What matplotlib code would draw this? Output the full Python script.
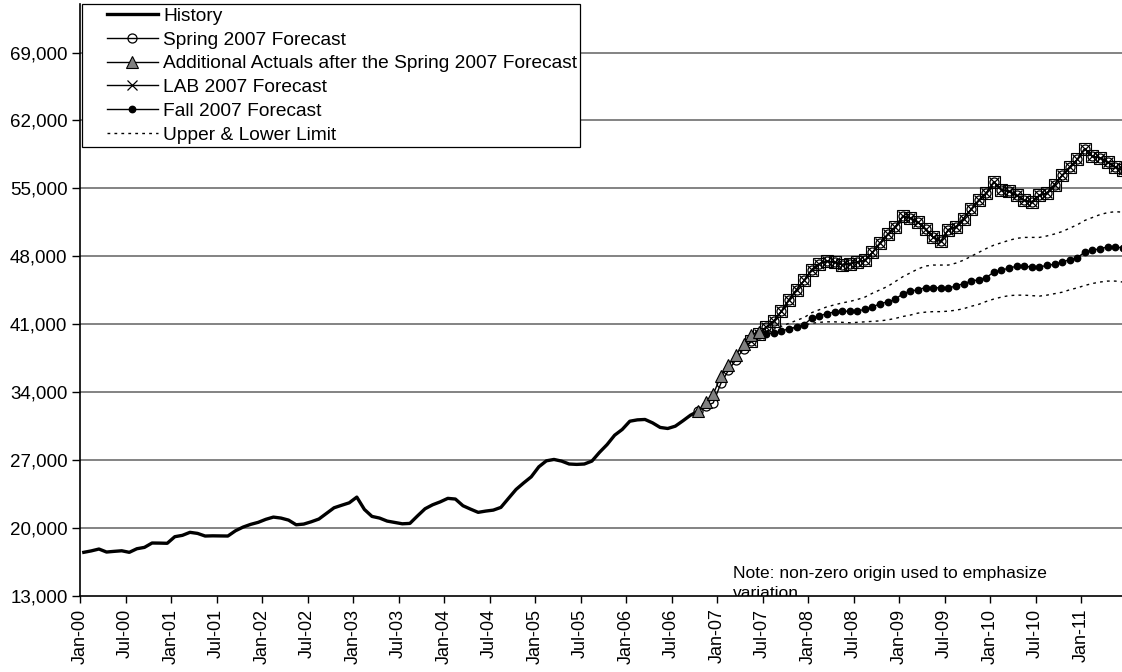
import numpy as np
import matplotlib
matplotlib.use("Agg")
import matplotlib.pyplot as plt
from matplotlib.lines import Line2D
from matplotlib.legend_handler import HandlerLine2D
from matplotlib.ticker import FuncFormatter

plt.rcParams["font.family"] = ["Liberation Sans", "DejaVu Sans"]

# month index 0 = Jan-00, one point per month
tick_labels = ["Jan-00", "Jul-00", "Jan-01", "Jul-01", "Jan-02", "Jul-02", "Jan-03",
               "Jul-03", "Jan-04", "Jul-04", "Jan-05", "Jul-05", "Jan-06", "Jul-06",
               "Jan-07", "Jul-07", "Jan-08", "Jul-08", "Jan-09", "Jul-09", "Jan-10",
               "Jul-10", "Jan-11"]
y_ticks = [13000, 20000, 27000, 34000, 41000, 48000, 55000, 62000, 69000]

history_start = 0
history = [17500, 17650, 17840, 17530, 17600, 17660, 17500, 17870, 18010, 18460,
           18450, 18430, 19110, 19250, 19560, 19450, 19180, 19200, 19190, 19180,
           19720, 20100, 20380, 20590, 20900, 21130, 21030, 20820, 20340, 20410,
           20650, 20930, 21510, 22090, 22350, 22600, 23190, 21920, 21200, 21030,
           20720, 20580, 20440, 20480, 21250, 21990, 22400, 22700, 23060, 22990,
           22300, 21950, 21620, 21750, 21850, 22130, 23060, 23980, 24650, 25280,
           26310, 26930, 27070, 26900, 26600, 26560, 26600, 26900, 27800, 28600,
           29570, 30160, 31010, 31150, 31190, 30840, 30370, 30260, 30500, 31050,
           31630, 32040]

actuals_start = 81
actuals = [32040, 33000, 33790, 35650, 36780, 37810, 39010, 39940, 40210]

spring_start = 81
spring = [32040, 32560, 32900, 34900, 36250, 37350, 38500, 39300, 40000, 40720,
          41340, 42340, 43540, 44570, 45530, 46630, 47250, 47490, 47400, 47150,
          47250, 47420, 47590, 48400, 49380, 50250, 51020, 52120, 51940, 51500,
          50780, 49960, 49530, 50750, 51020, 51880, 52840, 53760, 54520, 55650,
          54870, 54690, 54280, 53760, 53590, 54280, 54520, 55380, 56340, 57190,
          57980, 59090, 58290, 58160, 57710, 57190, 56850]

lab_start = 88
lab = [39300, 40000, 40720, 41340, 42340, 43540, 44570, 45530, 46630, 47250,
       47490, 47400, 47150, 47250, 47420, 47590, 48400, 49380, 50250, 51020,
       52120, 51940, 51500, 50780, 49960, 49530, 50750, 51020, 51880, 52840,
       53760, 54520, 55650, 54870, 54690, 54280, 53760, 53590, 54280, 54520,
       55380, 56340, 57190, 57980, 59090, 58290, 58160, 57710, 57190, 56850]

fall_start = 89
fall = [40100, 40040, 40110, 40280, 40560, 40720, 40970, 41650, 41860, 42100,
        42270, 42340, 42340, 42370, 42540, 42780, 43130, 43300, 43560, 44160,
        44400, 44570, 44780, 44780, 44740, 44740, 44940, 45190, 45430, 45600,
        45810, 46380, 46560, 46800, 46970, 46970, 46900, 46900, 47070, 47180,
        47410, 47660, 47860, 48440, 48620, 48790, 48960, 48930, 48900]

limits_start = 90
upper = [40300, 40500, 40800, 41100, 41400, 41700, 42200, 42500, 42800, 43000,
         43200, 43350, 43550, 43800, 44200, 44550, 44900, 45400, 45900, 46300,
         46700, 47000, 47100, 47100, 47100, 47300, 47600, 48000, 48400, 48800,
         49150, 49400, 49650, 49850, 49950, 49950, 49950, 50100, 50300, 50550,
         50900, 51250, 51700, 52000, 52300, 52500, 52600, 52550]
lower = [39900, 40000, 40200, 40500, 40700, 40900, 41100, 41200, 41250, 41250,
         41200, 41150, 41200, 41250, 41300, 41350, 41450, 41600, 41800, 41950,
         42150, 42250, 42300, 42300, 42350, 42450, 42600, 42850, 43050, 43350,
         43600, 43800, 43950, 44000, 44000, 43950, 43900, 44000, 44150, 44300,
         44550, 44750, 45000, 45200, 45350, 45450, 45450, 45350]


def months(start, values):
    return np.arange(start, start + len(values)) + 0.5


fig = plt.figure(figsize=(11.22, 6.72), dpi=100)
ax = fig.add_axes([80 / 1122, 76 / 672, 1042 / 1122, 592 / 672])

for y in y_ticks[1:]:
    ax.axhline(y, color="#6e6e6e", lw=1.2, zorder=0)

h_hist, = ax.plot(months(history_start, history), history, color="black", lw=2.4,
                  label="History", zorder=2)

h_spring, = ax.plot(months(spring_start, spring), spring, color="black", lw=1,
                    marker="o", ms=6.5, mfc="none", mec="black", mew=0.9,
                    label="Spring 2007 Forecast", zorder=3)

h_act, = ax.plot(months(actuals_start, actuals), actuals, color="black", lw=1,
                 marker="^", ms=8, mfc="#808080", mec="black", mew=0.8,
                 label="Additional Actuals after the Spring 2007 Forecast", zorder=5)

# square outline that shows round the LAB markers
ax.plot(months(lab_start, lab), lab, color="black", lw=1, marker="s", ms=8.3,
        mfc="none", mec="black", mew=0.8, zorder=4)
h_lab, = ax.plot(months(lab_start, lab), lab, color="black", lw=1,
                 marker="x", ms=6.5, mec="black", mew=0.9,
                 label="LAB 2007 Forecast", zorder=4)

h_fall, = ax.plot(months(fall_start, fall), fall, color="black", lw=1,
                  marker="o", ms=4.6, mfc="black", mec="black",
                  label="Fall 2007 Forecast", zorder=4)

h_lim, = ax.plot(months(limits_start, upper), upper, color="black", lw=1,
                 dashes=(2, 3), label="Upper & Lower Limit", zorder=3)
ax.plot(months(limits_start, lower), lower, color="black", lw=1, dashes=(2, 3), zorder=3)

ax.set_xlim(0, 137.4)
ax.set_ylim(13000, 74000)
ax.set_xticks(np.arange(len(tick_labels)) * 6)
ax.set_xticklabels(tick_labels, rotation=90, fontsize=13)
ax.set_yticks(y_ticks)
ax.yaxis.set_major_formatter(FuncFormatter(lambda v, p: f"{int(v):,}"))
ax.tick_params(axis="y", labelsize=13.5, length=6, width=1, direction="out", pad=3)
ax.tick_params(axis="x", length=5, width=1, direction="out", pad=4)

for s in ["top", "right"]:
    ax.spines[s].set_visible(False)
ax.spines["left"].set_linewidth(1.2)
ax.spines["bottom"].set_linewidth(1.2)

ax.text(0.627, 0.0507, "Note: non-zero origin used to emphasize\nvariation",
        transform=ax.transAxes, fontsize=12.5, ha="left", va="top",
        linespacing=1.45, clip_on=True)

leg = ax.legend(handles=[h_hist, h_spring, h_act, h_lab, h_fall, h_lim],
                handler_map={Line2D: HandlerLine2D(xpad=1.12)},
                loc="upper left", bbox_to_anchor=(82 / 1122, 1 - 4 / 672),
                bbox_transform=fig.transFigure, frameon=True, fancybox=False,
                edgecolor="black", framealpha=1, fontsize=13.8, handlelength=3.78,
                handletextpad=0.26, labelspacing=0.33, borderpad=0.18,
                borderaxespad=0, numpoints=1)
leg.get_frame().set_linewidth(0.9)

fig.savefig("out.png", dpi=100)
